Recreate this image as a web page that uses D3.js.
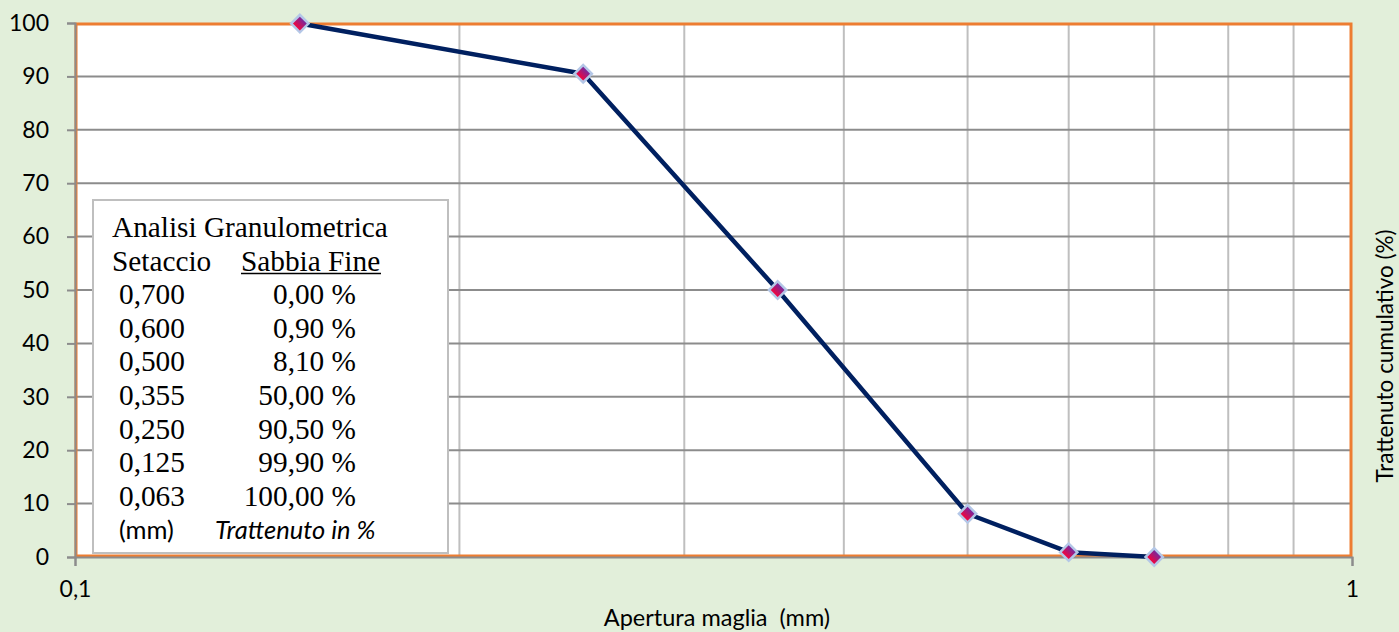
<!DOCTYPE html>
<html>
<head>
<meta charset="utf-8">
<script src="https://cdn.jsdelivr.net/npm/d3@7"></script>
<style>
  html, body { margin: 0; padding: 0; background: #E2EFDA; }
  svg { display: block; }
</style>
</head>
<body>
<svg id="chart" width="1399" height="632"></svg>
<script>
// ---- Data ----
const apertura = [0.15, 0.25, 0.355, 0.5, 0.6, 0.7];      // mm (plotted)
const trattenuto = [99.9, 90.5, 50.0, 8.1, 0.9, 0.0];     // % cumulative
const yTicks = [0, 10, 20, 30, 40, 50, 60, 70, 80, 90, 100];
const xGrid = [0.1, 0.2, 0.3, 0.4, 0.5, 0.6, 0.7, 0.8, 0.9, 1];
const xTickLabels = [0.1, 1];
const tableSetaccio = ["0,700", "0,600", "0,500", "0,355", "0,250", "0,125", "0,063"];
const tableSabbia = ["0,00 %", "0,90 %", "8,10 %", "50,00 %", "90,50 %", "99,90 %", "100,00 %"];

const svg = d3.select("#chart");
const W = 1399, H = 632;
const m = { left: 75, right: 1352, top: 23, bottom: 557 };

svg.append("rect").attr("width", W).attr("height", H).attr("fill", "#E2EFDA");

const x = d3.scaleLog().domain([0.1, 1]).range([m.left, m.right]);
const y = d3.scaleLinear().domain([0, 100]).range([m.bottom, m.top]);

const sans = "Lato, 'Open Sans', sans-serif";
const serif = "'Liberation Serif', 'Times New Roman', serif";

// plot area
svg.append("rect")
  .attr("x", m.left).attr("y", m.top)
  .attr("width", m.right - m.left).attr("height", m.bottom - m.top)
  .attr("fill", "#ffffff");

// vertical gridlines
svg.append("g").selectAll("line").data(xGrid.slice(1, -1)).join("line")
  .attr("x1", d => x(d)).attr("x2", d => x(d))
  .attr("y1", m.top).attr("y2", m.bottom)
  .attr("stroke", "#BFBFBF").attr("stroke-width", 2);

// horizontal gridlines
svg.append("g").selectAll("line").data(yTicks.slice(1, -1)).join("line")
  .attr("x1", m.left).attr("x2", m.right)
  .attr("y1", d => y(d)).attr("y2", d => y(d))
  .attr("stroke", "#8C8C8C").attr("stroke-width", 2);

// orange border
svg.append("rect")
  .attr("x", m.left + 1).attr("y", m.top + 1)
  .attr("width", m.right - m.left - 2).attr("height", m.bottom - m.top - 2)
  .attr("fill", "none").attr("stroke", "#ED7D31").attr("stroke-width", 3);

// y axis
const yAxis = svg.append("g").attr("transform", `translate(${m.left},0)`)
  .call(d3.axisLeft(y).tickValues(yTicks).tickSize(8).tickPadding(18).tickFormat(d3.format("d")));
yAxis.select(".domain").attr("stroke", "#8C8C8C").attr("stroke-width", 2);
yAxis.selectAll(".tick line").attr("stroke", "#8C8C8C").attr("stroke-width", 2);
yAxis.selectAll(".tick text").attr("font-family", sans).attr("font-size", 23).attr("fill", "#000");

// x axis
const xAxis = svg.append("g").attr("transform", `translate(0,${m.bottom})`)
  .call(d3.axisBottom(x).tickValues(xTickLabels).tickSize(9).tickPadding(15)
    .tickFormat(d => String(d).replace(".", ",")));
xAxis.select(".domain").attr("stroke", "#8C8C8C").attr("stroke-width", 2);
xAxis.selectAll(".tick line").attr("stroke", "#8C8C8C").attr("stroke-width", 2);
xAxis.selectAll(".tick text").attr("font-family", sans).attr("font-size", 23).attr("fill", "#000");

// axis titles
svg.append("text").attr("x", 717).attr("y", 626)
  .attr("text-anchor", "middle").attr("font-family", sans).attr("font-size", 23.5)
  .attr("fill", "#000").text("Apertura maglia\u00A0 (mm)");
svg.append("text")
  .attr("transform", "translate(1393,356) rotate(-90)")
  .attr("text-anchor", "middle").attr("font-family", sans).attr("font-size", 22.5)
  .attr("fill", "#000").text("Trattenuto cumulativo (%)");

// text box
const box = svg.append("g");
box.append("rect").attr("x", 93).attr("y", 200).attr("width", 355).attr("height", 353)
  .attr("fill", "#fff").attr("stroke", "#BFBFBF").attr("stroke-width", 2);
const base = 237, step = 33.6;
box.append("text").attr("x", 112).attr("y", base).attr("font-family", serif).attr("font-size", 29.3)
  .text("Analisi Granulometrica");
box.append("text").attr("x", 112).attr("y", base + step).attr("font-family", serif).attr("font-size", 29.3)
  .text("Setaccio");
box.append("text").attr("x", 241).attr("y", base + step).attr("font-family", serif).attr("font-size", 29.3)
  .text("Sabbia Fine");
box.append("line").attr("x1", 241).attr("x2", 381).attr("y1", base + step + 3).attr("y2", base + step + 3)
  .attr("stroke", "#000").attr("stroke-width", 1.5);
tableSetaccio.forEach((s, i) => {
  box.append("text").attr("x", 119).attr("y", base + step * (i + 2))
    .attr("font-family", serif).attr("font-size", 29.3).text(s);
  box.append("text").attr("x", 356).attr("y", base + step * (i + 2)).attr("text-anchor", "end")
    .attr("font-family", serif).attr("font-size", 29.3).text(tableSabbia[i]);
});
box.append("text").attr("x", 119).attr("y", base + step * 9)
  .attr("font-family", sans).attr("font-size", 25.5).text("(mm)");
box.append("text").attr("x", 215).attr("y", base + step * 9)
  .attr("font-family", sans).attr("font-size", 25.5).attr("font-style", "italic").text("Trattenuto in %");

// gradient for markers
const defs = svg.append("defs");
const grad = defs.append("linearGradient").attr("id", "mk").attr("x1", 0).attr("y1", 0).attr("x2", 0).attr("y2", 1);
grad.append("stop").attr("offset", "0%").attr("stop-color", "#6A2CA8");
grad.append("stop").attr("offset", "100%").attr("stop-color", "#FF0033");

// line
const pts = apertura.map((a, i) => [a, trattenuto[i]]);
svg.append("path").datum(pts)
  .attr("d", d3.line().x(d => x(d[0])).y(d => y(d[1])))
  .attr("fill", "none").attr("stroke", "#002060").attr("stroke-width", 4.5)
  .attr("stroke-linejoin", "round");

// markers
svg.append("g").selectAll("path").data(pts).join("path")
  .attr("d", d3.symbol(d3.symbolSquare, 150)())
  .attr("transform", d => `translate(${x(d[0])},${y(d[1])}) rotate(45)`)
  .attr("fill", "url(#mk)").attr("stroke", "#B4C7E7").attr("stroke-width", 2.5);
</script>
</body>
</html>
